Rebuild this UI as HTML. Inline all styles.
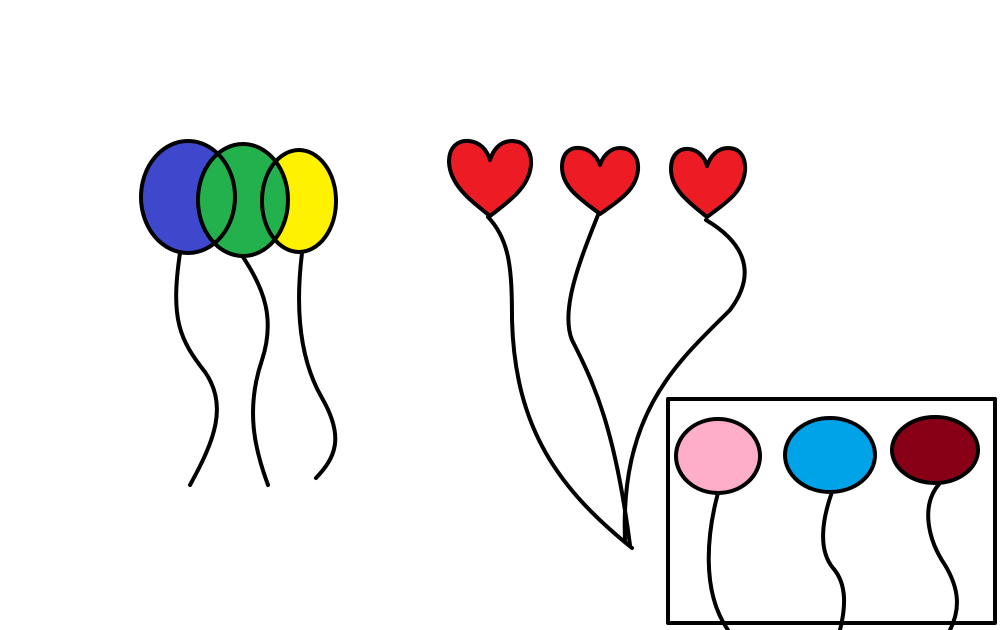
<!DOCTYPE html>
<html><head><meta charset="utf-8"><style>html,body{margin:0;padding:0;background:#fff}svg{display:block}</style></head>
<body>
<svg width="1008" height="630" viewBox="0 0 1008 630" fill="none" stroke="#000" stroke-width="4" stroke-linecap="round" stroke-linejoin="round">
<g>
<path d="M180,253 C170,320 180,340 205,372 C228,405 215,440 190,485"/>
<path d="M243,257 C265,290 275,320 262,360 C245,410 255,450 268,485"/>
<path d="M302,253 C295,310 300,360 322,398 C345,438 335,458 316,478"/>
<ellipse cx="188" cy="197" rx="47" ry="56" fill="#3f48cc" stroke="none"/>
<ellipse cx="299" cy="201" rx="37" ry="51" fill="#fff200" stroke="none"/>
<ellipse cx="243" cy="200" rx="45" ry="56" fill="#22b14c" stroke="none"/>
<ellipse cx="188" cy="197" rx="47" ry="56"/>
<ellipse cx="299" cy="201" rx="37" ry="51"/>
<ellipse cx="243" cy="200" rx="45" ry="56"/>
</g>
<g>
<path d="M488,217 C510,240 512,270 512,320 C515,430 560,490 632,548"/>
<path d="M598,215 C580,260 560,310 572,340 C595,385 615,430 630,545"/>
<path d="M706,220 C740,240 760,270 730,310 C680,360 620,410 625,540"/>
<path fill="#ed1c24" d="M490,216 C470,200 450,185 449,162 C449,145 460,140 469,141 C480,142 487,150 490,160 C493,150 500,141 512,141 C524,141 532,150 531,165 C529,188 508,202 490,216 Z"/>
<path fill="#ed1c24" d="M600,214 C582,200 562,188 562,167 C562,152 571,147 580,148 C590,149 597,156 600,165 C603,156 610,148 620,148 C632,148 639,157 638,170 C636,191 617,202 600,214 Z"/>
<path fill="#ed1c24" d="M707,217 C690,203 671,190 671,169 C671,154 680,148 689,149 C698,150 705,157 707,166 C710,157 717,148 728,148 C740,148 746,157 745,171 C743,193 724,204 707,217 Z"/>
</g>
<g>
<rect x="668" y="399" width="327" height="224" fill="#fff"/>
<path d="M718,493 C708,530 700,590 728,630"/>
<path d="M832,492 C822,520 818,550 833,568 C848,585 845,610 840,630"/>
<path d="M940,483 C920,505 928,540 945,565 C960,590 960,610 950,630"/>
<ellipse cx="718" cy="456" rx="42" ry="37" fill="#ffaec9"/>
<ellipse cx="830" cy="455" rx="45" ry="37" fill="#00a2e8"/>
<ellipse cx="935" cy="450" rx="43" ry="33" fill="#880015"/>
</g>
</svg>
</body></html>
